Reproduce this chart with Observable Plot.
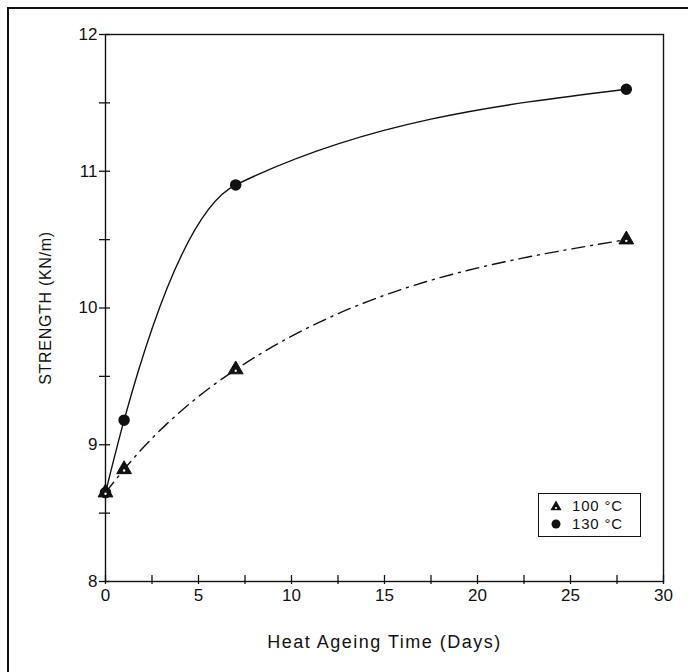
<!DOCTYPE html>
<html>
<head>
<meta charset="utf-8">
<script src="https://cdn.jsdelivr.net/npm/d3@7"></script>
<script src="https://cdn.jsdelivr.net/npm/@observablehq/plot@0.6"></script>
<style>
  html, body { margin: 0; padding: 0; background: #fff; }
  #wrap { position: relative; width: 688px; height: 672px; overflow: hidden; }
  #wrap svg { position: absolute; left: 0; top: 0; }
  #border { position: absolute; left: 7px; top: 7px; right: -4px; bottom: -4px;
            border-left: 2px solid #111; border-top: 2px solid #111; }
  #legend { position: absolute; border: 1.3px solid #111; background: #fff;
            font-family: "Liberation Sans", Arial, sans-serif; font-size: 15px; color: #111;
            letter-spacing: 0.8px; padding: 3px 6px 3px 11px; line-height: 18px; }
  #legend .row { display: flex; align-items: center; gap: 10px; }
  .xtitle text { letter-spacing: 1.5px; }
  .ytitle text { letter-spacing: 0.7px; }
</style>
</head>
<body>
<div id="wrap"><div id="border"></div></div>
<script>
// Heat ageing time (days) at which strength was measured
const days = [0, 1, 7, 28];
// Strength (kN/m) for each ageing temperature
const strength100 = [8.65, 8.82, 9.55, 10.5];
const strength130 = [8.65, 9.18, 10.9, 11.6];
const seriesNames = ["100 °C", "130 °C"];

// Axis ticks and labels
const xTicksMajor = [0, 5, 10, 15, 20, 25, 30];
const xTicksAll = [0, 2.5, 5, 7.5, 10, 12.5, 15, 17.5, 20, 22.5, 25, 27.5, 30];
const yTicksMajor = [8, 9, 10, 11, 12];
const yTicksAll = [8, 8.5, 9, 9.5, 10, 10.5, 11, 11.5, 12];
const xLabel = "Heat Ageing Time (Days)";
const yLabel = "STRENGTH (KN/m)";

const W = 688, H = 672;
const mL = 105, mR = 25, mT = 34, mB = 91;
const plotW = W - mL - mR, plotH = H - mT - mB;

const rows = [];
days.forEach((d, i) => {
  rows.push({series: seriesNames[0], day: d, value: strength100[i]});
  rows.push({series: seriesNames[1], day: d, value: strength130[i]});
});
const s100 = rows.filter(r => r.series === seriesNames[0]);
const s130 = rows.filter(r => r.series === seriesNames[1]);

const ink = "#111";

const chart = Plot.plot({
  width: W, height: H,
  marginLeft: mL, marginRight: mR, marginTop: mT, marginBottom: mB,
  style: {fontFamily: "Liberation Sans, Arial, sans-serif", fontSize: "17px", color: ink, background: "transparent"},
  x: {domain: [0, 30], axis: null},
  y: {domain: [8, 12], axis: null},
  marks: [
    Plot.frame({stroke: ink, strokeWidth: 1.4}),
    // tick marks crossing the axes
    Plot.tickX(xTicksAll, {x: d => d, insetTop: plotH - 6, insetBottom: -3, stroke: ink, strokeWidth: 1.3}),
    Plot.tickY(yTicksAll, {y: d => d, insetLeft: -6, insetRight: plotW - 5, stroke: ink, strokeWidth: 1.3}),
    // tick labels
    Plot.text(xTicksMajor, {x: d => d, text: d => String(d), frameAnchor: "bottom", dy: 19, fill: ink}),
    Plot.text(yTicksMajor, {y: d => d, text: d => String(d), frameAnchor: "left", dx: -8, textAnchor: "end", fill: ink}),
    // axis titles
    Plot.text([xLabel], {text: d => d, frameAnchor: "bottom", dy: 66, textAnchor: "middle", fontSize: 18, fill: ink,
      className: "xtitle"}),
    Plot.text([yLabel], {text: d => d, frameAnchor: "left", dx: -60, dy: 0, rotate: -90, textAnchor: "middle",
      fontSize: 16, fill: ink, className: "ytitle"}),
    // fitted curves
    Plot.line(s130, {x: "day", y: "value", curve: "monotone-x", stroke: ink, strokeWidth: 1.4}),
    Plot.line(s100, {x: "day", y: "value", curve: "monotone-x", stroke: ink, strokeWidth: 1.4, strokeDasharray: "13,6,2,6"}),
    // measured points
    Plot.dot(s130, {x: "day", y: "value", r: 5, fill: ink, stroke: ink}),
    Plot.dot(s100, {x: "day", y: "value", symbol: "triangle", r: 5.5, fill: ink, stroke: ink, strokeWidth: 1}),
    Plot.dot(s100, {x: "day", y: "value", dy: 1.2, r: 1.2, fill: "#fff"})
  ]
});
document.getElementById("wrap").appendChild(chart);

// legend box
const legend = d3.select("#wrap").append("div").attr("id", "legend")
  .style("left", "538px").style("top", "493px").style("width", "84px");
const symbols = [
  {name: seriesNames[0], type: "triangle"},
  {name: seriesNames[1], type: "circle"}
];
symbols.forEach(s => {
  const row = legend.append("div").attr("class", "row");
  const svg = row.append("svg").attr("width", 12).attr("height", 12).attr("viewBox", "-6 -6 12 12")
    .style("position", "static");
  if (s.type === "circle") {
    svg.append("circle").attr("r", 4.5).attr("fill", ink);
  } else {
    svg.append("path").attr("d", d3.symbol(d3.symbolTriangle, 55)()).attr("fill", ink)
      .attr("transform", "translate(0,1)");
    svg.append("circle").attr("r", 1.1).attr("cy", 2).attr("fill", "#fff");
  }
  row.append("span").text(s.name);
});
</script>
</body>
</html>
